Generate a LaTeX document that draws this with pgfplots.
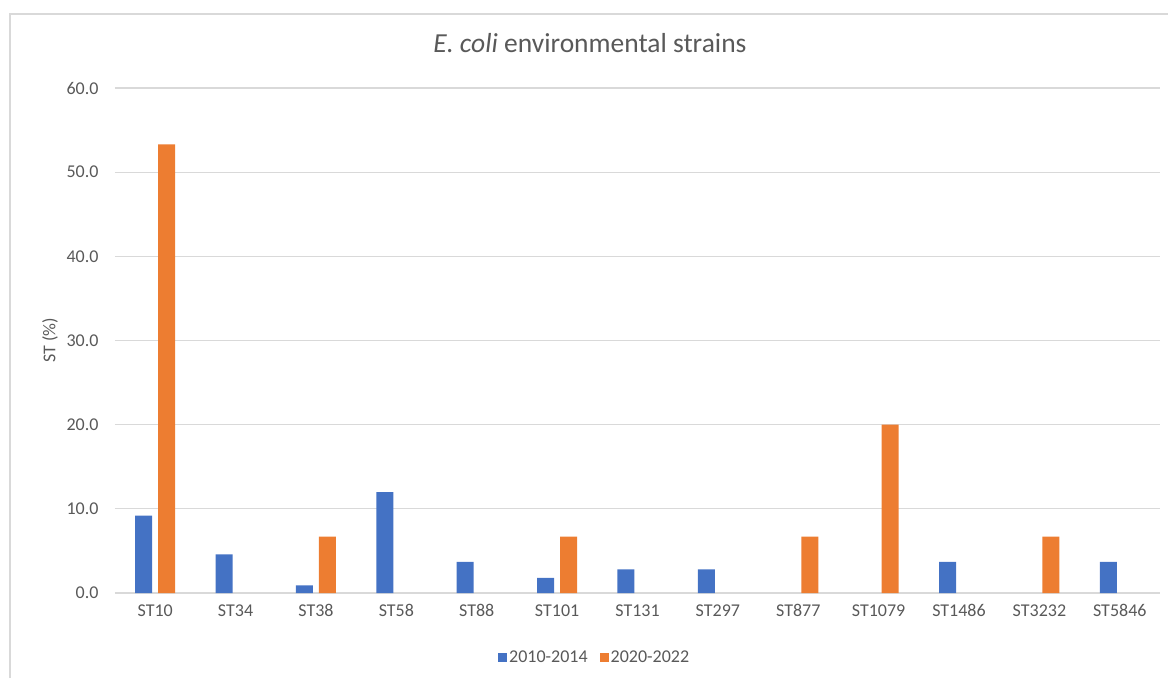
\documentclass[border=0pt]{standalone}
\usepackage{pgfplots}
\pgfplotsset{compat=1.18}
\usepackage{fontspec}
\setmainfont{Carlito}
\definecolor{cblue}{HTML}{4472C4}
\definecolor{corange}{HTML}{ED7D31}
\definecolor{cgrid}{HTML}{D9D9D9}
\definecolor{ctext}{HTML}{595959}
\begin{document}
\begin{tikzpicture}[x=1pt,y=1pt]
\useasboundingbox (-115,-85) rectangle (1053,593);
\begin{axis}[
  at={(0,0)}, anchor=south west,
  scale only axis, width=1045pt, height=505pt,
  ybar=6pt, bar width=17pt,
  xmin=-0.5, xmax=12.5, ymin=0, ymax=60,
  xtick={0,1,2,3,4,5,6,7,8,9,10,11,12},
  xticklabels={ST10,ST34,ST38,ST58,ST88,ST101,ST131,ST297,ST877,ST1079,ST1486,ST3232,ST5846},
  ytick={0,10,20,30,40,50,60},
  /pgf/number format/assume math mode=true,
  yticklabel style={/pgf/number format/fixed, /pgf/number format/fixed zerofill, /pgf/number format/precision=1, xshift=-13pt},
  ticklabel style={font=\fontsize{18}{21}\selectfont, text=ctext},
  xticklabel style={yshift=-8pt},
  major tick length=0pt,
  axis line style={draw=none},
  ymajorgrids, grid style={cgrid, line width=1.2pt},
  ylabel={ST (\%)},
  ylabel style={at={(axis description cs:-0.0622,0.5)}, anchor=center, font=\fontsize{18}{21}\selectfont, text=ctext},
  title={\textit{E. coli} environmental strains},
  title style={at={(axis description cs:0.4545,1)}, anchor=center, yshift=39pt, font=\fontsize{27.5}{32}\selectfont, text=ctext},
  legend style={at={(0.459,-0.127)}, anchor=center, draw=none, legend columns=2, font=\fontsize{18}{21}\selectfont, text=ctext,
    /tikz/every even column/.append style={column sep=10pt}},
  legend image code/.code={\fill[#1] (-3pt,-4.5pt) rectangle (6pt,4.5pt);},
]
\addplot[fill=cblue, draw=none] coordinates {(0,9.2) (1,4.6) (2,0.9) (3,12.0) (4,3.7) (5,1.8) (6,2.8) (7,2.8) (10,3.7) (12,3.7)};
\addplot[fill=corange, draw=none] coordinates {(0,53.3) (2,6.7) (5,6.7) (8,6.7) (9,20.0) (11,6.7)};
\legend{2010-2014, 2020-2022}
\end{axis}
\draw[cgrid, line width=1.5pt] (-105,-85) -- (-105,579) -- (1053,579);
\end{tikzpicture}
\end{document}
